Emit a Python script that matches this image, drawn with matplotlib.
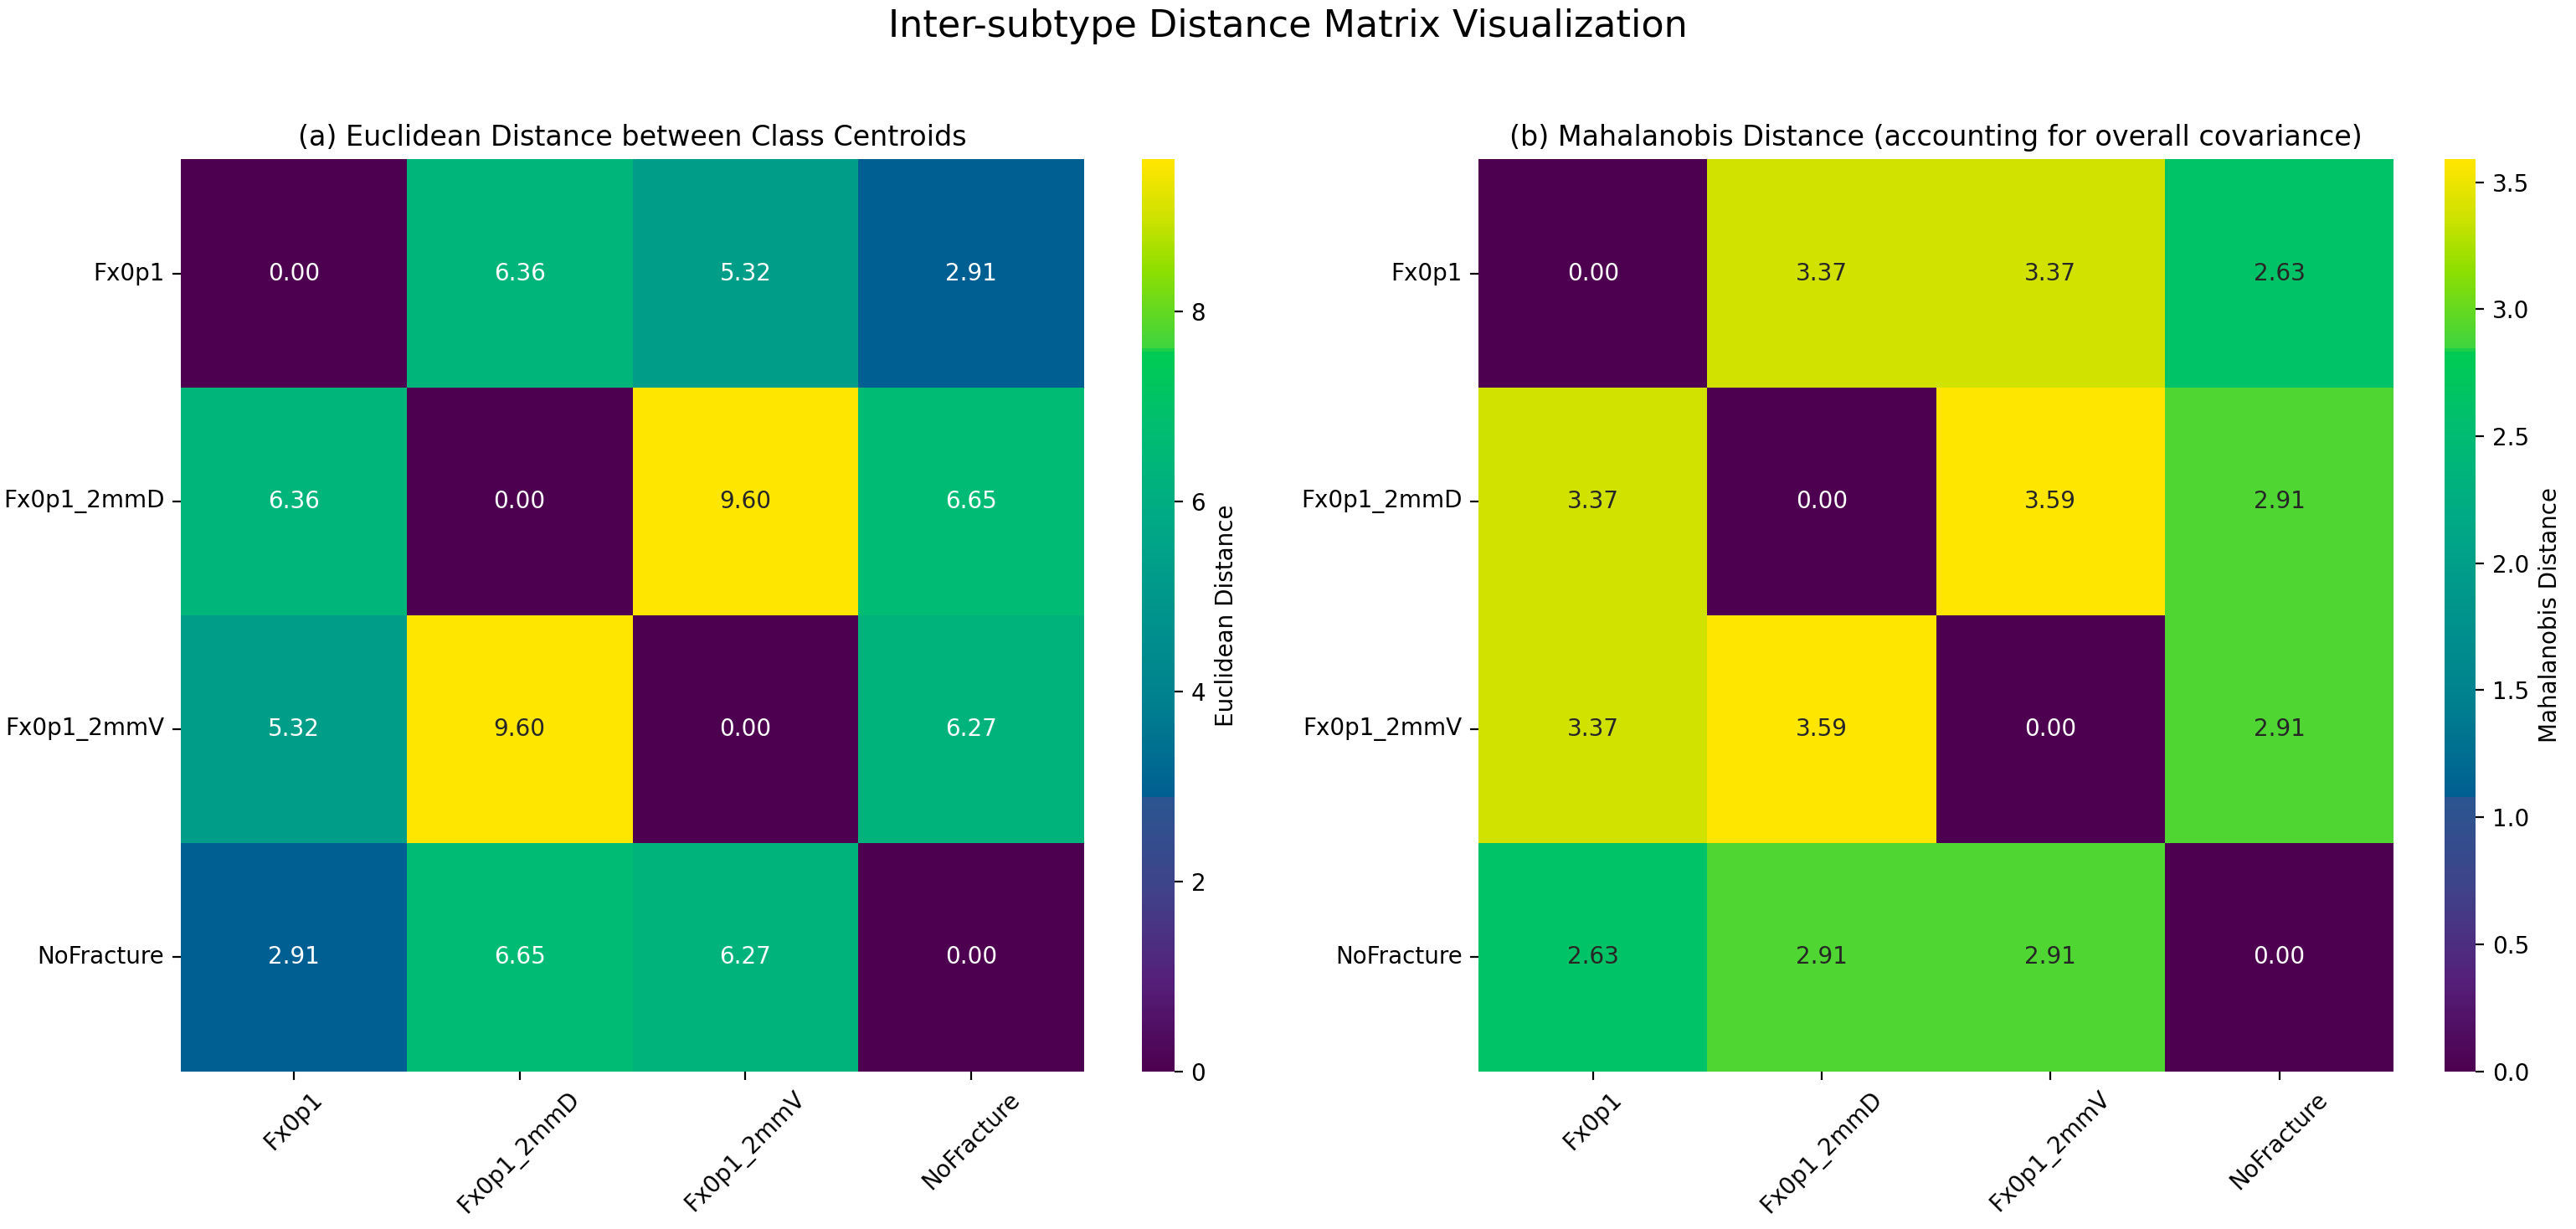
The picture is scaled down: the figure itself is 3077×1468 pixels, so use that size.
import matplotlib
matplotlib.use("Agg")
import matplotlib.pyplot as plt
from matplotlib.colors import LinearSegmentedColormap, to_rgb
import numpy as np
import seaborn as sns

# class labels
classes = ["Fx0p1", "Fx0p1_2mmD", "Fx0p1_2mmV", "NoFracture"]

# Euclidean distance between class centroids
euclid_row1 = [0.00, 6.36, 5.32, 2.91]
euclid_row2 = [6.36, 0.00, 9.60, 6.65]
euclid_row3 = [5.32, 9.60, 0.00, 6.27]
euclid_row4 = [2.91, 6.65, 6.27, 0.00]

# Mahalanobis distance
mahal_row1 = [0.00, 3.37, 3.37, 2.63]
mahal_row2 = [3.37, 0.00, 3.59, 2.91]
mahal_row3 = [3.37, 3.59, 0.00, 2.91]
mahal_row4 = [2.63, 2.91, 2.91, 0.00]

euclid = np.array([euclid_row1, euclid_row2, euclid_row3, euclid_row4])
mahal = np.array([mahal_row1, mahal_row2, mahal_row3, mahal_row4])

# viridis as it appears in the reference (more saturated, with steps)
cmap_stops = [
    (0.00, "#4d0050"),
    (0.10, "#55207a"),
    (0.20, "#3f4389"),
    (0.298, "#2a5590"),
    (0.302, "#005f92"),
    (0.40, "#007f8f"),
    (0.50, "#00938c"),
    (0.60, "#00a886"),
    (0.70, "#00bc72"),
    (0.79, "#00cc52"),
    (0.795, "#3fd43e"),
    (0.88, "#8edf00"),
    (0.94, "#d0e200"),
    (1.00, "#ffe600"),
]
cmap = LinearSegmentedColormap.from_list("vir_ref", cmap_stops)
base = plt.get_cmap("viridis")


def lum(rgb):
    rgb = np.array(to_rgb(rgb))
    rgb = np.where(rgb <= .03928, rgb / 12.92, ((rgb + .055) / 1.055) ** 2.4)
    return rgb.dot([.2126, .7152, .0722])


W, H = 3077, 1468
dpi = 200
fig = plt.figure(figsize=(W / dpi, H / dpi), dpi=dpi)


def frac(x0, y0, x1, y1):
    # pixel box (display scale ~1568x748) -> figure fraction
    sx, sy = 1568.0, 748.0
    return [x0 / sx, 1 - y1 / sy, (x1 - x0) / sx, (y1 - y0) / sy]


ax1 = fig.add_axes(frac(110, 97, 660, 652))
cax1 = fig.add_axes(frac(695, 97, 715, 652))
ax2 = fig.add_axes(frac(900, 97, 1457, 652))
cax2 = fig.add_axes(frac(1488, 97, 1507, 652))

sns.heatmap(euclid, ax=ax1, cbar_ax=cax1, annot=True, fmt=".2f", cmap=cmap,
            xticklabels=classes, yticklabels=classes,
            cbar_kws={"label": "Euclidean Distance"})
ax1.set_title("(a) Euclidean Distance between Class Centroids", fontsize=12)

sns.heatmap(mahal, ax=ax2, cbar_ax=cax2, annot=True, fmt=".2f", cmap=cmap,
            xticklabels=classes, yticklabels=classes,
            cbar_kws={"label": "Mahalanobis Distance"})
ax2.set_title("(b) Mahalanobis Distance (accounting for overall covariance)", fontsize=12)

# text colour picked from plain viridis luminance
for ax, data in ((ax1, euclid), (ax2, mahal)):
    norm = (data - data.min()) / (data.max() - data.min())
    for txt, v in zip(ax.texts, norm.flat):
        txt.set_color(".15" if lum(base(v)) > .408 else "w")
    plt.setp(ax.get_xticklabels(), rotation=45, ha="center")
    plt.setp(ax.get_yticklabels(), rotation=0)

fig.suptitle("Inter-subtype Distance Matrix Visualization", fontsize=16, y=0.993)

fig.savefig("out.png", dpi=dpi)
plt.close(fig)
